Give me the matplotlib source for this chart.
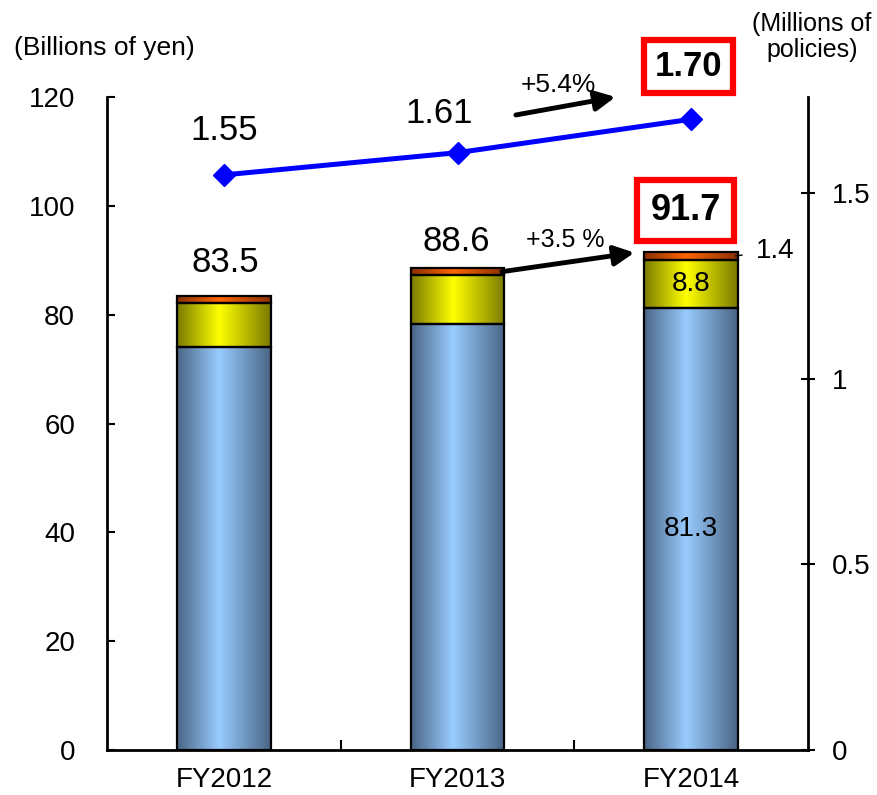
import numpy as np
import matplotlib
matplotlib.use("Agg")
import matplotlib.pyplot as plt
from matplotlib.colors import LinearSegmentedColormap
from matplotlib.ticker import FormatStrFormatter

plt.rcParams["font.family"] = ["Liberation Sans", "DejaVu Sans"]

years = ["FY2012", "FY2013", "FY2014"]
premium_base = [74.0, 78.3, 81.3]
premium_mid = [8.2, 8.9, 8.8]
premium_top = [1.3, 1.4, 1.4]
premium_total = [83.5, 88.6, 91.7]
policies = [1.55, 1.61, 1.70]

# horizontal shading: dark edges, light centre
def shade(dark, light):
    return LinearSegmentedColormap.from_list("", [(0, dark), (0.45, light), (1, dark)])

cmaps = [shade("#4a6585", "#99ccff"),
         shade("#7a7a00", "#ffff00"),
         shade("#8a3000", "#ff6600")]

fig = plt.figure(figsize=(8.77, 7.95), dpi=100)
ax = fig.add_axes([107 / 877, 45 / 795, 701 / 877, 653 / 795])
ax2 = ax.twinx()

x = np.arange(len(years))
grad = np.linspace(0, 1, 256).reshape(1, -1)
bottom = np.zeros(len(years))
for vals, cmap in zip([premium_base, premium_mid, premium_top], cmaps):
    bars = ax.bar(x, vals, width=0.4, bottom=bottom, facecolor="none",
                  edgecolor="black", linewidth=1.6, zorder=3)
    for b in bars:
        bx, by = b.get_x(), b.get_y()
        im = ax.imshow(grad, extent=[bx, bx + b.get_width(), by, by + b.get_height()],
                       aspect="auto", cmap=cmap, zorder=2)
        im.set_clip_path(b)
    bottom += np.array(vals)

ax.set_xlim(-0.5, 2.5)
ax.set_ylim(0, 120)
ax.set_yticks(range(0, 121, 20))
ax.set_xticks(x)
ax.set_xticklabels(years)
ax.set_xticks([0.5, 1.5], minor=True)
ax.tick_params(axis="x", which="major", length=0, pad=12, labelsize=20)
ax.tick_params(axis="x", which="minor", direction="in", length=7, width=1.5)
ax.tick_params(axis="y", direction="in", length=6, width=1.5, pad=23, labelsize=20)
for s in ["left", "bottom"]:
    ax.spines[s].set_linewidth(2)
ax.spines["top"].set_visible(False)
ax.spines["right"].set_visible(False)

# policies line on the right axis
ax2.plot(x, policies, color="#0000ff", linewidth=3.6, marker="D",
         markersize=11, zorder=4)
ax2.set_ylim(0, 1.76)
ax2.set_yticks([0, 0.5, 1, 1.5])
ax2.yaxis.set_major_formatter(FormatStrFormatter("%g"))
ax2.tick_params(axis="y", direction="inout", length=10, width=1.5, pad=12, labelsize=20)
ax2.spines["right"].set_linewidth(2)
for s in ["top", "left", "bottom"]:
    ax2.spines[s].set_visible(False)

# line value labels
ax2.annotate("1.55", (x[0], policies[0]), xytext=(0, 32), textcoords="offset points",
             ha="center", va="center", fontsize=25)
ax2.annotate("1.61", (x[1], policies[1]), xytext=(-13, 28), textcoords="offset points",
             ha="center", va="center", fontsize=25)
ax2.annotate("1.70", (x[2], policies[2]), xytext=(-2, 38), textcoords="offset points",
             ha="center", va="center", fontsize=25, fontweight="bold",
             bbox=dict(boxstyle="square,pad=0.3", facecolor="white",
                       edgecolor="#ff0000", linewidth=4.5))

# bar totals
top_heights = bottom
ax.annotate(f"{premium_total[0]}", (x[0], top_heights[0]), xytext=(1, 24),
            textcoords="offset points", ha="center", va="center", fontsize=25)
ax.annotate(f"{premium_total[1]}", (x[1], top_heights[1]), xytext=(-1, 19),
            textcoords="offset points", ha="center", va="center", fontsize=25)
ax.annotate(f"{premium_total[2]}", (x[2], top_heights[2]), xytext=(-4, 30),
            textcoords="offset points", ha="center", va="center", fontsize=26,
            fontweight="bold",
            bbox=dict(boxstyle="square,pad=0.36", facecolor="white",
                      edgecolor="#ff0000", linewidth=4.5))

# segment labels for FY2014
ax.text(x[2], premium_base[2] / 2, f"{premium_base[2]}", ha="center", va="center",
        fontsize=20, zorder=5)
ax.text(x[2], premium_base[2] + premium_mid[2] / 2, f"{premium_mid[2]}",
        ha="center", va="center", fontsize=20, zorder=5)
ax.annotate(f"{premium_top[2]}", (x[2] + 0.19, premium_base[2] + premium_mid[2] + premium_top[2] / 2),
            xytext=(2.36, 91.7), ha="center", va="center", fontsize=20, zorder=5,
            arrowprops=dict(arrowstyle="-", color="black", lw=1, shrinkA=8, shrinkB=0))

# growth arrows
arrow = dict(arrowstyle="-|>", color="black", lw=3.5, mutation_scale=30,
             shrinkA=0, shrinkB=0)
ax.annotate("", xy=(1.757, 91.4), xytext=(1.19, 87.9), arrowprops=arrow, zorder=6)
ax.text(1.46, 93.8, "+3.5 %", ha="center", va="center", fontsize=18)
ax.annotate("", xy=(1.676, 120.0), xytext=(1.25, 116.7), arrowprops=arrow,
            annotation_clip=False, zorder=6)
ax.text(1.43, 122.2, "+5.4%", ha="center", va="center", fontsize=19, clip_on=False)

fig.text(14 / 877, 1 - 48 / 795, "(Billions of yen)", ha="left", va="center", fontsize=19)
fig.text(812 / 877, 1 - 37 / 795, "(Millions of\npolicies)", ha="center", va="center",
         fontsize=18, linespacing=1.1)

fig.savefig("out.png", dpi=100)
